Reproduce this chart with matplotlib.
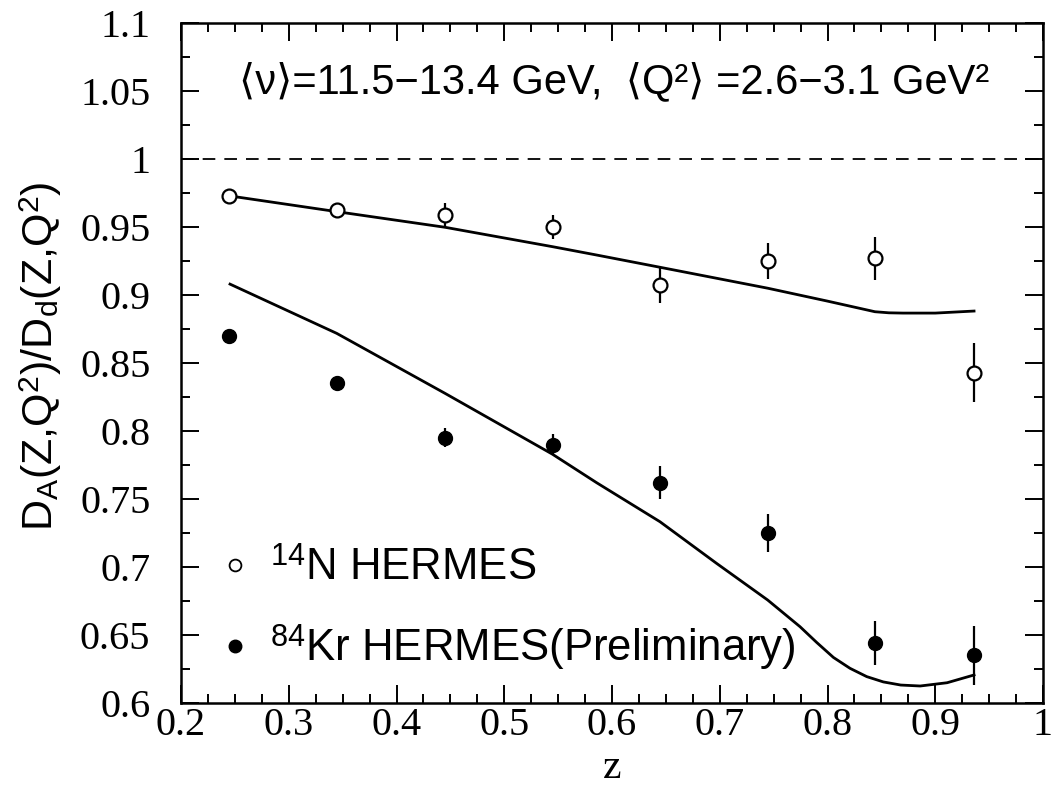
import matplotlib
matplotlib.use("Agg")
import matplotlib.pyplot as plt
from matplotlib.lines import Line2D
from matplotlib.ticker import MultipleLocator, FuncFormatter

plt.rcParams["mathtext.fontset"] = "custom"
plt.rcParams["mathtext.rm"] = "Liberation Sans"
plt.rcParams["mathtext.it"] = "Liberation Serif:italic"
plt.rcParams["mathtext.bf"] = "Liberation Sans:bold"

# z bins of the measurements
z_pts = [0.245, 0.345, 0.445, 0.545, 0.645, 0.745, 0.844, 0.936]

# 14N HERMES ratio and errors
r_n = [0.973, 0.9625, 0.959, 0.950, 0.907, 0.925, 0.927, 0.843]
e_n = [0.0, 0.0, 0.009, 0.009, 0.013, 0.0135, 0.016, 0.022]

# 84Kr HERMES (preliminary) ratio and errors
r_kr = [0.870, 0.835, 0.795, 0.790, 0.762, 0.725, 0.644, 0.635]
e_kr = [0.0, 0.0, 0.007, 0.008, 0.012, 0.014, 0.016, 0.0215]

# model curves
zc_n = [0.25, 0.3445, 0.445, 0.545, 0.5857, 0.6445, 0.7445, 0.80, 0.844, 0.857,
        0.87, 0.90, 0.936]
rc_n = [0.9723, 0.9613, 0.9498, 0.9355, 0.9294, 0.9204, 0.905, 0.8955, 0.8877, 0.8869,
        0.8867, 0.8867, 0.8882]

zc_kr = [0.2455, 0.3445, 0.445, 0.5446, 0.5857, 0.6445, 0.697, 0.7445, 0.7745,
         0.79, 0.8055, 0.8209, 0.8364, 0.8518, 0.868, 0.886, 0.911, 0.936]
rc_kr = [0.908, 0.8718, 0.8277, 0.7830, 0.7620, 0.7333, 0.7027, 0.6757, 0.6561,
         0.6445, 0.6335, 0.6255, 0.6194, 0.6155, 0.6132, 0.6125, 0.6149, 0.6206]

x_range = (0.2, 1.0)
y_range = (0.6, 1.1)

fig = plt.figure(figsize=(10.54, 7.89), dpi=100)
ax = fig.add_axes([181 / 1054, 1 - 703 / 789, (1043 - 181) / 1054, (703 - 23) / 789])

ax.set_xlim(*x_range)
ax.set_ylim(*y_range)

# reference line at unity
ax.axhline(1.0, color="black", lw=1.3, dashes=(7, 5))

# theory curves
ax.plot(zc_n, rc_n, color="black", lw=2.0)
ax.plot(zc_kr, rc_kr, color="black", lw=2.0)

# data
ax.errorbar(z_pts, r_n, yerr=e_n, fmt="o", mfc="white", mec="black", mew=1.6,
            ms=10, ecolor="black", elinewidth=1.6, capsize=0, zorder=5)
ax.errorbar(z_pts, r_kr, yerr=e_kr, fmt="o", mfc="black", mec="black", mew=1.0,
            ms=10, ecolor="black", elinewidth=1.6, capsize=0, zorder=5)

# axes styling
for s in ax.spines.values():
    s.set_linewidth(1.8)
ax.xaxis.set_major_locator(MultipleLocator(0.1))
ax.xaxis.set_minor_locator(MultipleLocator(0.025))
ax.yaxis.set_major_locator(MultipleLocator(0.05))
ax.yaxis.set_minor_locator(MultipleLocator(0.025))
fmt = FuncFormatter(lambda v, p: f"{v:.2f}".rstrip("0").rstrip("."))
ax.xaxis.set_major_formatter(fmt)
ax.yaxis.set_major_formatter(fmt)
ax.tick_params(which="both", direction="in", top=True, right=True, width=1.4)
ax.tick_params(which="major", length=13)
ax.tick_params(which="minor", length=6.5)
ax.tick_params(axis="x", which="major", pad=3)
ax.tick_params(axis="y", which="major", pad=22)
for lab in ax.get_xticklabels() + ax.get_yticklabels():
    lab.set_fontfamily("Liberation Serif")
    lab.set_fontsize(29)

ax.set_xlabel("z", fontsize=30, family="Liberation Serif")
ax.xaxis.set_label_coords(0.5, -0.0676)
ax.set_ylabel(r"D$_\mathrm{A}$(Z,Q$^\mathrm{2}$)/D$_\mathrm{d}$(Z,Q$^\mathrm{2}$)",
              fontsize=31, family="Liberation Sans")
ax.yaxis.set_label_coords(-0.136, 0.51)

ax.text(0.503, 0.913,
        "\u27e8\u03bd\u27e9=11.5\u221213.4 GeV,  \u27e8Q\u00b2\u27e9 =2.6\u22123.1 GeV\u00b2",
        transform=ax.transAxes, ha="center", va="center", fontsize=30,
        family=["Liberation Sans", "DejaVu Sans"])

handles = [
    Line2D([], [], ls="none", marker="o", mfc="white", mec="black", mew=1.3, ms=8.5),
    Line2D([], [], ls="none", marker="o", mfc="black", mec="black", ms=9),
]
labels = [r"$^\mathrm{14}$N HERMES", r"$^\mathrm{84}$Kr HERMES(Preliminary)"]
ax.legend(handles, labels, loc="lower left", bbox_to_anchor=(0.05, 0.045),
          frameon=False, borderpad=0, borderaxespad=0,
          handlelength=0.5, handletextpad=0.55, labelspacing=0.78,
          prop={"family": "Liberation Sans", "size": 31.5})

fig.savefig("out.png", dpi=100)
